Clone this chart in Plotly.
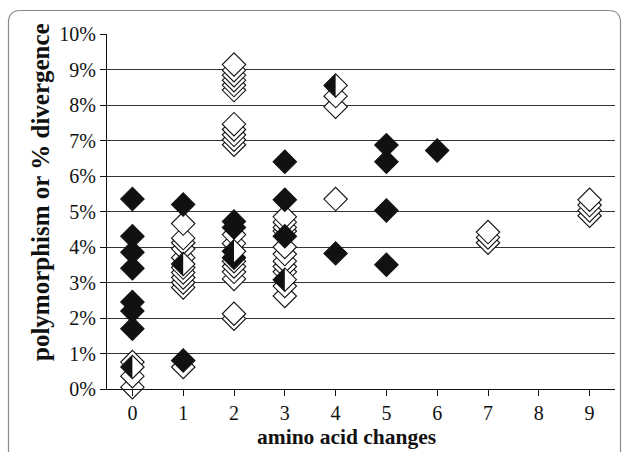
import plotly.graph_objects as go

# ---- data (percent) ----
open_x = [0, 0, 0,
          1, 1, 1, 1, 1, 1, 1, 1, 1, 1, 1,
          2, 2, 2, 2, 2, 2, 2, 2, 2, 2, 2, 2, 2, 2, 2, 2, 2, 2, 2,
          3, 3, 3, 3, 3, 3, 3, 3, 3, 3, 3,
          4, 4, 4,
          7, 7, 7,
          9, 9, 9, 9]
open_y = [0.76, 0.36, 0.05,
          4.66, 4.25, 4.12, 3.95, 3.70, 3.42, 3.28, 3.14, 3.00, 2.86, 0.62,
          9.14, 8.98, 8.84, 8.70, 8.56, 8.42, 7.46, 7.31, 7.16, 7.02, 6.88,
          4.35, 4.10, 3.60, 3.45, 3.30, 3.10, 2.12, 1.98,
          4.85, 4.70, 4.55, 4.45, 4.00, 3.80, 3.60, 3.45, 3.30, 2.90, 2.62,
          8.25, 7.95, 5.35,
          4.42, 4.27, 4.12,
          5.33, 5.18, 5.03, 4.88]

filled_x = [0, 0, 0, 0, 0, 0, 0,
            1, 1,
            2, 2, 2,
            3, 3, 3,
            4,
            5, 5, 5, 5,
            6]
filled_y = [5.35, 4.30, 3.85, 3.40, 2.45, 2.20, 1.70,
            5.20, 0.80,
            4.72, 4.55, 3.70,
            6.40, 5.33, 4.30,
            3.82,
            6.87, 6.40, 5.03, 3.50,
            6.72]

half_x = [0, 1, 2, 3, 4]
half_y = [0.62, 3.52, 3.88, 3.08, 8.55]

x_ticks = [0, 1, 2, 3, 4, 5, 6, 7, 8, 9]
y_ticks = [0, 1, 2, 3, 4, 5, 6, 7, 8, 9, 10]
y_tick_labels = [f"{v}%" for v in y_ticks]

# ---- layout geometry ----
W, H = 624, 452
L, R, T, B = 107, 9, 34, 63
pw, ph = W - L - R, H - T - B

MS = 18
half_px = 1.3 * MS / 2

FONT = "Liberation Serif"

# draw open markers lower-first so upper ones lie on top
order = sorted(range(len(open_y)), key=lambda i: (open_x[i], open_y[i]))
ox = [open_x[i] for i in order]
oy = [open_y[i] for i in order]

fig = go.Figure()
fig.add_trace(go.Scatter(
    x=ox, y=oy, mode="markers",
    marker=dict(symbol="diamond", size=MS, color="white",
                line=dict(color="#111", width=1.1)),
    showlegend=False, cliponaxis=False, hoverinfo="skip"))
fig.add_trace(go.Scatter(
    x=filled_x, y=filled_y, mode="markers",
    marker=dict(symbol="diamond", size=MS, color="#111",
                line=dict(color="#111", width=1.1)),
    showlegend=False, cliponaxis=False, hoverinfo="skip"))
fig.add_trace(go.Scatter(
    x=half_x, y=half_y, mode="markers",
    marker=dict(symbol="diamond", size=MS, color="white",
                line=dict(color="#111", width=1.1)),
    showlegend=False, cliponaxis=False, hoverinfo="skip"))

shapes = []
for hx, hy in zip(half_x, half_y):
    shapes.append(dict(
        type="path", xref="x", yref="y",
        xsizemode="pixel", ysizemode="pixel",
        xanchor=hx, yanchor=hy,
        path=f"M0,{half_px} L{-half_px},0 L0,{-half_px} Z",
        fillcolor="#111", line=dict(width=0), layer="above"))


def px2paper(px, py):
    return (px - L) / pw, (H - B - py) / ph


# rounded outer frame (decoration)
fl, ft, fr, fb, rad = 8.5, 10.5, 620.5, 470, 12
p = []
x0, y0 = px2paper(fl, fb); p.append(f"M{x0},{y0}")
x1, y1 = px2paper(fl, ft + rad); p.append(f"L{x1},{y1}")
cx, cy = px2paper(fl, ft); ex, ey = px2paper(fl + rad, ft)
p.append(f"Q{cx},{cy} {ex},{ey}")
x2, y2 = px2paper(fr - rad, ft); p.append(f"L{x2},{y2}")
cx, cy = px2paper(fr, ft); ex, ey = px2paper(fr, ft + rad)
p.append(f"Q{cx},{cy} {ex},{ey}")
x3, y3 = px2paper(fr, fb); p.append(f"L{x3},{y3}")
shapes.append(dict(type="path", xref="paper", yref="paper", path=" ".join(p),
                   line=dict(color="#8a8a8a", width=1.2), layer="below"))

fig.update_layout(
    width=W, height=H,
    margin=dict(l=L, r=R, t=T, b=B, pad=0),
    paper_bgcolor="white", plot_bgcolor="white",
    font=dict(family=FONT, color="#111", size=20),
    shapes=shapes,
    xaxis=dict(range=[-0.5, 9.5], tickvals=x_ticks, ticktext=[str(v) for v in x_ticks],
               showgrid=False, zeroline=False, showline=True, linecolor="#111",
               linewidth=1, ticks="outside", ticklen=6, tickcolor="#111",
               automargin=False,
               tickfont=dict(family=FONT, size=20, color="#111")),
    yaxis=dict(range=[0, 10], tickvals=y_ticks, ticktext=y_tick_labels,
               showgrid=True, gridcolor="#333", gridwidth=1,
               zeroline=False, showline=True, linecolor="#111", linewidth=1,
               ticks="outside", ticklen=6, tickcolor="#111",
               automargin=False,
               tickfont=dict(family=FONT, size=20, color="#111")),
    annotations=[
        dict(text="<b>amino acid changes</b>", xref="paper", yref="paper",
             x=(346 - L) / pw, y=(H - B - 437) / ph, xanchor="center", yanchor="middle",
             showarrow=False, font=dict(family=FONT, size=21.5, color="#111")),
        dict(text="<b>polymorphism or % divergence</b>", xref="paper", yref="paper",
             x=(40 - L) / pw, y=(H - B - 192) / ph, xanchor="center", yanchor="middle",
             textangle=-90, showarrow=False,
             font=dict(family=FONT, size=25, color="#111")),
    ],
)

fig.write_html("out.html",
               config={"displayModeBar": False},
               post_script="document.body.style.margin='0px';document.body.style.overflow='hidden';")
